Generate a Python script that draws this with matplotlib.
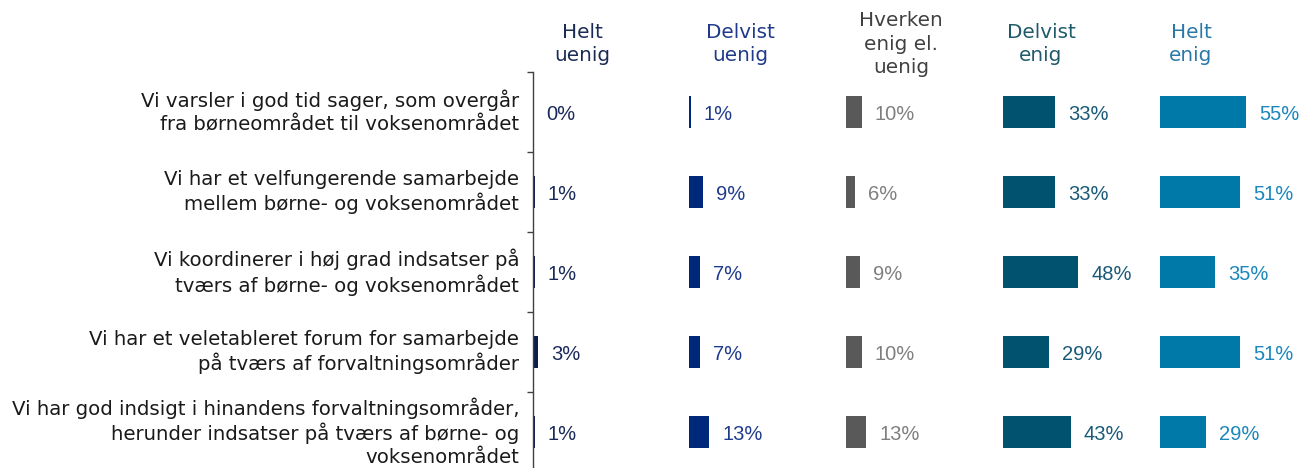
import matplotlib
matplotlib.use("Agg")
import matplotlib.pyplot as plt

# ---- data ----
statements = [
    "Vi varsler i god tid sager, som overgår\nfra børneområdet til voksenområdet",
    "Vi har et velfungerende samarbejde\nmellem børne- og voksenområdet",
    "Vi koordinerer i høj grad indsatser på\ntværs af børne- og voksenområdet",
    "Vi har et veletableret forum for samarbejde\npå tværs af forvaltningsområder",
    "Vi har god indsigt i hinandens forvaltningsområder,\nherunder indsatser på tværs af børne- og\nvoksenområdet",
]
categories = ["Helt\nuenig", "Delvist\nuenig", "Hverken\nenig el.\nuenig", "Delvist\nenig", "Helt\nenig"]
helt_uenig = [0, 1, 1, 3, 1]
delvist_uenig = [1, 9, 7, 7, 13]
hverken = [10, 6, 9, 10, 13]
delvist_enig = [33, 33, 48, 29, 43]
helt_enig = [55, 51, 35, 51, 29]
series = [helt_uenig, delvist_uenig, hverken, delvist_enig, helt_enig]

bar_colors = ["#0b1d4d", "#00287a", "#595959", "#00526e", "#0078a8"]
label_colors = ["#1a2a5a", "#1f3b8c", "#7f7f7f", "#1a5a78", "#1b86bb"]
header_colors = ["#1a2b55", "#1f3a8a", "#404040", "#1e5a6a", "#2a78a8"]

# ---- layout ----
W, H = 1310, 468
fig = plt.figure(figsize=(W / 100, H / 100), dpi=100)
panel_left_px = [533, 689, 846, 1003, 1160]
panel_w_px = 150
px_per_pct = 1.57
top_px, bot_px = 72, 472
header_x_px = [582, 740, 901, 1041, 1191]
header_y_px = 44

n = len(statements)
for i, (vals, bc, lc) in enumerate(zip(series, bar_colors, label_colors)):
    ax = fig.add_axes([panel_left_px[i] / W, 1 - bot_px / H, panel_w_px / W, (bot_px - top_px) / H])
    ax.barh(range(n), vals, height=0.4, color=bc)
    ax.set_xlim(0, panel_w_px / px_per_pct)
    ax.set_ylim(n - 0.5, -0.5)
    for j, v in enumerate(vals):
        ax.annotate(f"{v}%", (v, j), xytext=(13, -2), textcoords="offset pixels",
                    va="center", ha="left", fontsize=14.5, color=lc,
                    family="Liberation Sans")
    ax.set_xticks([])
    for s in ["top", "right", "bottom"]:
        ax.spines[s].set_visible(False)
    if i == 0:
        ax.spines["left"].set_color("#404040")
        ax.spines["left"].set_linewidth(1.0)
        ax.set_yticks([k - 0.5 for k in range(n + 1)])
        ax.set_yticklabels([])
        ax.tick_params(axis="y", length=4, width=1.0, color="#404040", direction="out")
        for j, s in enumerate(statements):
            ax.annotate(s, (0, j), xycoords=("axes fraction", "data"), xytext=(-14, 0),
                        textcoords="offset pixels", ha="right", va="center",
                        fontsize=14.2, color="#1a1a1a", family="DejaVu Sans",
                        linespacing=1.24, multialignment="right")
    else:
        ax.spines["left"].set_visible(False)
        ax.set_yticks([])
    fig.text(header_x_px[i] / W, 1 - header_y_px / H, categories[i], ha="center", va="center",
             fontsize=14.4, color=header_colors[i], family="DejaVu Sans", linespacing=1.28)

fig.savefig("out.png", dpi=100)
